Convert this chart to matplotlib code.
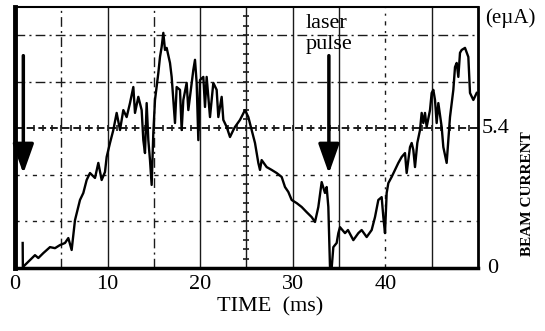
import numpy as np
import matplotlib.pyplot as plt

plt.rcParams['font.family'] = ['Liberation Serif', 'DejaVu Serif']

# Beam current trace
time_ms = [
    0.83, 0.85, 2.16, 2.52, 3.06, 3.78, 4.32, 4.86, 5.40, 5.76, 6.12, 6.48,
    7.02, 7.38, 7.74, 8.10, 8.64, 9.00, 9.36, 9.72, 9.90, 10.26, 10.62, 10.98,
    11.34, 11.70, 12.06, 12.42, 12.78, 12.96, 13.32, 13.68, 13.86, 14.04, 14.22,
    14.40, 14.58, 14.76, 14.94, 15.12, 15.48, 15.66, 15.84, 16.02, 16.20, 16.38,
    16.74, 16.92, 17.10, 17.28, 17.46, 17.82, 18.00, 18.18, 18.54, 18.72, 18.90,
    19.26, 19.44, 19.62, 19.80, 19.98, 20.34, 20.52, 20.70, 21.06, 21.42, 21.78,
    21.96, 22.32, 22.50, 22.86, 23.22, 23.58, 23.76, 24.30, 24.84, 25.20, 25.56,
    25.92, 26.28, 26.46, 26.64, 27.18, 27.72, 28.26, 28.80, 29.16, 29.52, 29.88,
    30.42, 30.96, 31.50, 32.04, 32.40, 32.76, 33.12, 33.48, 33.66, 33.84, 34.02,
    34.20, 34.38, 34.74, 34.92, 35.10, 35.64, 35.96, 36.54, 37.08, 37.44, 37.98,
    38.52, 38.88, 39.24, 39.60, 39.78, 39.96, 40.14, 40.32, 40.68, 41.04, 41.40,
    41.76, 42.12, 42.30, 42.66, 42.84, 43.02, 43.20, 43.45, 43.74, 43.92, 44.10,
    44.28, 44.46, 44.82, 45.00, 45.18, 45.36, 45.54, 45.72, 46.08, 46.26, 46.62,
    46.80, 46.98, 47.34, 47.52, 47.70, 47.88, 48.06, 48.24, 48.60, 48.96, 49.14,
    49.50, 49.86,
]
current = [
    0.97, 0.04, 0.50, 0.39, 0.58, 0.81, 0.77, 0.89, 0.97, 1.16, 0.70, 1.85,
    2.63, 2.90, 3.40, 3.67, 3.48, 4.06, 3.40, 3.71, 4.29, 4.83, 5.33, 5.99,
    5.33, 6.10, 5.83, 6.37, 6.99, 5.99, 6.61, 6.10, 4.94, 4.44, 6.37,
    4.94, 4.17, 3.21, 5.22, 6.49, 7.53, 8.15, 8.54, 9.08, 8.42, 8.50,
    7.92, 7.38, 6.49, 5.60, 6.99, 6.88, 5.33, 6.49, 7.15, 6.10, 6.61,
    7.65, 8.04, 7.15, 4.94, 7.26, 7.38, 6.22, 7.38, 5.83, 7.15, 6.88,
    5.83, 6.61, 5.72, 5.45, 5.06, 5.33, 5.45, 5.72, 6.10, 5.83, 5.33,
    4.83, 4.06, 3.79, 4.17, 3.90, 3.79, 3.67, 3.52, 3.13, 2.94, 2.63,
    2.51, 2.36, 2.16, 1.97, 1.78, 2.36, 3.32, 2.90, 3.13, 2.36, 0.04,
    0.00, 0.81, 0.97, 1.35, 1.58, 1.35, 1.47, 1.08, 1.35, 1.47, 1.20,
    1.47, 1.97, 2.63, 2.74, 1.97, 1.35, 2.90, 3.28, 3.52, 3.79, 4.06,
    4.29, 4.44, 3.67, 4.67, 4.83, 4.56, 3.90, 4.83, 5.33, 5.99, 5.60,
    5.99, 5.45, 6.10, 6.76, 6.88, 6.49, 5.60, 6.37, 5.45, 4.67, 4.06,
    4.94, 5.83, 6.88, 7.76, 7.92, 7.38, 8.31, 8.42, 8.50, 8.15, 6.76,
    6.49, 6.76,
]

tick_times = [0, 10, 20, 30, 40]
level_marks = [0, 5.4]

# laser pulse arrows: time, shaft top, arrow tip
pulse_times = [0.9, 33.9]
arrow_top = 8.2
arrow_tip = 3.65

ink = '#1a1a1a'

fig = plt.figure(figsize=(5.45, 3.31), dpi=100)
ax = fig.add_axes([0.0275, 0.19, 0.8495, 0.789])
ax.set_xlim(0, 50)
ax.set_ylim(0, 10.08)

# scope graticule
dashdot = (0, (7, 3, 1.5, 3))
sparse = (0, (3, 4, 1.5, 4))
v_styles = {5: dashdot, 10: '-', 15: dashdot, 20: '-', 25: '-',
            30: '-', 35: '-', 40: sparse, 45: '-'}
for t, ls in v_styles.items():
    ax.axvline(t, color=ink, lw=1.0, ls=ls, zorder=1)
h_styles = {1.8: sparse, 3.6: sparse, 5.4: (0, (4, 2)), 7.2: dashdot, 9.0: dashdot}
for y, ls in h_styles.items():
    ax.axhline(y, color=ink, lw=1.4 if y == 5.4 else 1.0, ls=ls, zorder=1)

# minor marks on the centre lines
ax.plot([25] * 28, np.arange(0, 10.08, 0.36), ls='none', marker='_',
        ms=5, mew=1.2, color=ink, zorder=1)
ax.plot(np.arange(0, 50, 1.0), [5.4] * 50, ls='none', marker='|',
        ms=5, mew=1.2, color=ink, zorder=1)

ax.plot(time_ms, current, color='black', lw=1.7, zorder=3)

for t in pulse_times:
    ax.annotate('', xy=(t, arrow_tip), xytext=(t, arrow_top),
                arrowprops=dict(arrowstyle='-|>,head_length=0.9,head_width=0.32',
                                mutation_scale=20, lw=2.5, color='black',
                                shrinkA=0, shrinkB=0), zorder=4)

ax.text(31.4, 9.27, 'laser', fontsize=16, va='baseline', ha='left')
ax.text(31.4, 8.45, 'pulse', fontsize=16, va='baseline', ha='left')

for side, lw in {'left': 3.5, 'bottom': 2.5, 'top': 1.5, 'right': 2.0}.items():
    ax.spines[side].set_linewidth(lw)
    ax.spines[side].set_color('black')

ax.set_xticks(tick_times)
ax.set_xticklabels([str(t) for t in tick_times], fontsize=16)
ax.tick_params(axis='x', length=0, pad=5)
ax.set_yticks([])

ax.text(1.02, level_marks[0], '0', transform=ax.get_yaxis_transform(),
        fontsize=16, va='center', ha='left')
ax.text(1.008, level_marks[1], '5.4', transform=ax.get_yaxis_transform(),
        fontsize=16, va='center', ha='left')
ax.text(1.015, 9.66, '(e\u00b5A)', transform=ax.get_yaxis_transform(),
        fontsize=15, va='center', ha='left')

fig.text(0.967, 0.414, 'BEAM CURRENT', rotation=90, fontsize=11,
         fontweight='bold', ha='center', va='center')
fig.text(0.495, 0.073, 'TIME  (ms)', fontsize=16, ha='center', va='center')

fig.savefig('out.png', dpi=100)
